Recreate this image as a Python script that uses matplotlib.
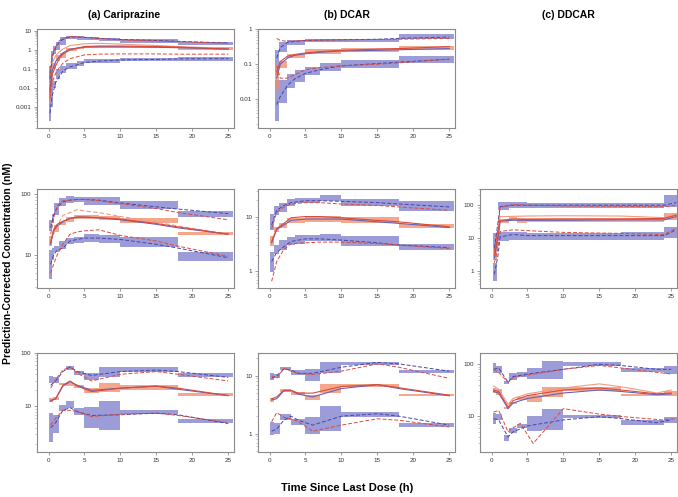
import numpy as np
import matplotlib
matplotlib.use("Agg")
import matplotlib.pyplot as plt
from matplotlib.ticker import LogLocator, FuncFormatter, NullFormatter, FixedLocator

plt.rcParams['font.family'] = ['Liberation Sans', 'DejaVu Sans']
N = None

# ---------------- data ----------------
col_titles = ["(a) Cariprazine", "(b) DCAR", "(c) DDCAR"]
x_label = "Time Since Last Dose (h)"
y_label = "Prediction-Corrected Concentration (nM)"
x_ticks = [0, 5, 10, 15, 20, 25]

# Row 1 / Cariprazine
A1_edges = [0.1, 0.35, 0.6, 1.1, 1.6, 2.5, 4, 5, 7, 10, 18, 25.7]
A1_p95 = [[0.02, 0.15], [0.12, 0.9], [0.6, 1.6], [1.0, 2.6], [1.8, 4.5], [3.5, 5.2], [3.4, 5.0], [3.2, 4.5], [3.0, 4.2], [2.4, 3.5], [1.9, 2.7]]
A1_p50 = [[0.0022, 0.031], [0.02, 0.15], [0.1, 0.22], [0.25, 0.55], [0.4, 0.65], [0.9, 1.3], [1.1, 1.5], [1.2, 1.6], [1.3, 1.6], [1.3, 1.65], [1.0, 1.35]]
A1_p05 = [[0.0002, 0.016], [0.001, 0.03], [0.01, 0.025], [0.03, 0.1], [0.06, 0.15], [0.1, 0.2], [0.15, 0.25], [0.2, 0.35], [0.22, 0.35], [0.25, 0.38], [0.28, 0.45]]
A1_time = [0.2, 0.5, 1, 1.5, 2, 3, 5, 7, 10, 15, 18, 25]
A1_sim95 = [0.03, 0.4, 1.3, 2.5, 3.5, 4.8, 4.5, 4.0, 3.5, 3.1, 2.8, 2.3]
A1_obs95 = [0.05, 0.6, 1.5, 3.0, 4.0, 5.0, 4.6, 4.0, 3.3, 2.9, 2.7, 2.2]
A1_sim50 = [0.008, 0.08, 0.25, 0.45, 0.7, 1.1, 1.4, 1.45, 1.45, 1.38, 1.3, 1.1]
A1_obs50 = [0.005, 0.05, 0.15, 0.35, 0.6, 1.0, 1.5, 1.6, 1.6, 1.5, 1.4, 1.1]
A1_extra = [0.01, 0.2, 0.5, 0.8, 1.1, 1.7, 2.1, 2.2, 2.0, 1.7, 1.5, 1.2]
A1_sim05 = [0.0005, 0.004, 0.02, 0.04, 0.08, 0.13, 0.22, 0.26, 0.3, 0.32, 0.34, 0.35]
A1_obs05 = [0.003, 0.02, 0.06, 0.12, 0.2, 0.35, 0.55, 0.6, 0.62, 0.62, 0.6, 0.6]
A1_yticks = [0.001, 0.01, 0.1, 1, 10]

# Row 1 / DCAR
B1_edges = [0.8, 1.3, 2.5, 3.5, 5, 7, 10, 18, 25.7]
B1_p95 = [[0.05, 0.26], [0.23, 0.42], [0.36, 0.5], [0.36, 0.5], [0.42, 0.54], [0.42, 0.54], [0.42, 0.54], [0.52, 0.73]]
B1_p50 = [[0.018, 0.09], [0.076, 0.12], [0.15, 0.2], [0.15, 0.2], [0.2, 0.27], [0.2, 0.27], [0.23, 0.3], [0.26, 0.34]]
B1_p05 = [[0.0024, 0.035], [0.008, 0.035], [0.021, 0.054], [0.031, 0.068], [0.048, 0.085], [0.065, 0.11], [0.076, 0.13], [0.106, 0.17]]
B1_time = [1.0, 1.5, 2.5, 3.5, 5, 7, 10, 15, 18, 25]
B1_sim95 = [0.15, 0.3, 0.42, 0.45, 0.48, 0.49, 0.5, 0.52, 0.55, 0.6]
B1_obs95 = [0.55, 0.48, 0.45, 0.46, 0.48, 0.49, 0.5, 0.51, 0.52, 0.55]
B1_sim50 = [0.04, 0.1, 0.15, 0.18, 0.2, 0.22, 0.24, 0.25, 0.26, 0.28]
B1_obs50 = [0.06, 0.12, 0.17, 0.19, 0.21, 0.23, 0.25, 0.27, 0.28, 0.32]
B1_sim05 = [0.007, 0.012, 0.025, 0.038, 0.055, 0.07, 0.09, 0.105, 0.115, 0.14]
B1_obs05 = [0.09, 0.04, 0.04, 0.05, 0.07, 0.08, 0.09, 0.1, 0.11, 0.14]
B1_yticks = [0.01, 0.1, 1]

# Row 2 / Cariprazine
A2_edges = [0.1, 0.5, 0.8, 1.5, 2.5, 3.5, 5, 7, 10, 18, 25.7]
A2_p95 = [[25, 38], [33, 48], [46, 73], [63, 86], [71, 92], [75, 90], [67, 89], [67, 89], [57, 76], [43, 52]]
A2_p50 = [[14, 20.6], N, [24, 31], [31, 35.4], [35, 42], [39, 46], [39, 46], [38, 44], [33, 40], [21, 24]]
A2_p05 = [[4, 12], [8.3, 12.8], [11, 14], [12.5, 17], [15, 19], [15.6, 20], [16.6, 22], [15.6, 21], [13.4, 20], [8, 11]]
A2_time = [0.3, 0.7, 1.2, 2, 3, 4, 5, 7, 10, 15, 18, 25]
A2_sim95 = [28, 45, 60, 75, 80, 82, 82, 80, 72, 62, 57, 48]
A2_obs95 = [22, 40, 65, 78, 80, 82, 82, 78, 70, 58, 50, 38]
A2_sim50 = [15, 25, 30, 35, 40, 42, 42, 41, 38, 32, 28, 22]
A2_obs50 = [16, 26, 32, 36, 40, 42, 42, 41, 39, 33, 29, 22]
A2_extra = [17, 22, 30, 45, 50, 56, 53, 50, 43, 35, 30, 22]
A2_sim05 = [7, 10, 12, 13, 17, 18, 19, 19, 18, 15, 13, 9]
A2_obs05 = [5, 7, 10, 15, 22, 24, 25, 26, 21, 17, 14, 9.5]
A2_yticks = [10, 100]

# Row 2 / DCAR
B2_edges = [0.1, 0.6, 1.3, 2.5, 3.5, 5, 7, 10, 18, 25.7]
B2_p95 = [[5.7, 11], [10.7, 15.3], [12.3, 17.6], [15.7, 20.8], [17.6, 21.7], [17.6, 21.7], [18.9, 25], [15.7, 20.8], [12.9, 18.9]]
B2_p50 = [[2.9, 4.4], [5.3, 6.5], [6.1, 7.5], [7.5, 9.3], [7.5, 9.3], [8.1, 10.3], [8.1, 10.3], [7.5, 9.7], [6.1, 7.2]]
B2_p05 = [[0.97, 2.27], [2.1, 3.0], [2.4, 3.7], [3.0, 4.3], [3.2, 4.6], [3.5, 4.6], [3.5, 4.8], [2.9, 4.4], [2.4, 3.2]]
B2_time = [0.3, 1, 2, 3, 5, 7, 10, 15, 18, 25]
B2_sim95 = [7, 13, 16, 18, 19.5, 19.5, 19, 18, 17, 15]
B2_obs95 = [6, 12, 15, 17, 18, 18, 17, 16, 15, 13]
B2_sim50 = [3.3, 5.8, 7, 8.5, 9, 9, 9, 8, 7.5, 6.3]
B2_obs50 = [3.5, 6, 7.5, 9.5, 10, 10, 9.5, 8.5, 8, 6.5]
B2_sim05 = [1.5, 2.2, 2.8, 3.5, 3.9, 3.9, 3.7, 3.3, 3.0, 2.7]
B2_obs05 = [0.65, 1.5, 2.5, 3.2, 3.3, 3.4, 3.4, 3.2, 3.0, 2.6]
B2_yticks = [1, 10]

# Row 2 / DDCAR
C2_edges = [0.2, 0.7, 0.9, 2.5, 3.5, 5, 10, 18, 24, 25.8]
C2_p95 = [[5.6, 14], [5, 15], [72, 129], [81, 129], [81, 129], [81, 120], [81, 120], [81, 115], [91, 205]]
C2_p50 = [[2.2, 5.6], N, [28, 36], [36, 45], [28, 40], [32, 42], [30, 40], [30, 40], [36, 57]]
C2_p05 = [[0.52, 1.83], N, [8, 15], [9, 15], [9, 15], [9, 14], [9, 14], [9, 15], [10, 22]]
C2_time = [0.4, 0.9, 1.2, 3, 5, 10, 18, 24, 25.7]
C2_sim95 = [5, 30, 90, 100, 100, 100, 100, 100, 120]
C2_obs95 = [4, 20, 85, 105, 100, 95, 92, 90, 100]
C2_sim50 = [2.5, 10, 33, 35, 35, 35, 36, 36, 45]
C2_obs50 = [3, 12, 35, 38, 37, 38, 38, 40, 50]
C2_extra = [3.5, 15, 45, 46, 47, 48, 47, 42, 55]
C2_sim05 = [0.8, 3, 11, 13, 12, 12, 12, 12, 18]
C2_obs05 = [1.8, 5, 16, 18, 17, 15, 14, 13, 20]
C2_yticks = [1, 10, 100]

# Row 3 / Cariprazine
A3_edges = [0.1, 0.6, 1.5, 2.5, 3.5, 5, 7, 10, 18, 25.7]
A3_p95 = [[27.4, 36.5], [28, 35.5], N, [49, 58], [39, 47], [31.6, 43], [35.5, 54], [45, 54], [35.5, 42]]
A3_p50 = [[11.9, 14.3], [13.3, 15], [25.5, 28], [24, 27], [22, 25.5], [17.8, 22], [19, 27.4], [20.5, 25.5], [15.9, 17.8]]
A3_p05 = [[2.2, 7.5], [3.2, 7], [8.3, 10.7], [9.3, 12.4], [7, 9.3], [4, 9.8], [3.7, 12.8], [7.3, 8.7], [4.9, 5.8]]
A3_time = [0.3, 1, 2, 3, 4, 6, 10, 15, 18, 25]
A3_sim95 = [25, 30, 45, 55, 45, 38, 45, 48, 45, 35]
A3_obs95 = [22, 32, 48, 55, 42, 30, 40, 45, 40, 30]
A3_sim50 = [13, 14, 24, 29, 25, 20, 22, 24, 21, 16]
A3_obs50 = [12.5, 14, 25, 30, 24, 19, 22, 24, 22, 16]
A3_sim05 = [4, 5, 8.5, 9.5, 8, 6.8, 7, 7.5, 7, 4.8]
A3_obs05 = [4.5, 6, 8.5, 8.5, 8, 6.5, 7.2, 7.5, 6.8, 5]
A3_yticks = [10, 100]

# Row 3 / DCAR
B3_edges = [0.1, 0.6, 1.5, 3.0, 5, 7, 10, 18, 25.7]
B3_p95 = [[8.4, 11.3], [9, 10.9], [12.5, 14.3], [10.3, 12.5], [8.2, 12.9], [11, 17.5], [15.3, 17.5], [11, 12.5]]
B3_p50 = [[3.5, 4.1], N, [5.3, 5.8], [4.6, 5.3], [3.8, 4.6], [5.1, 7.2], [6.3, 7.1], [4.4, 4.9]]
B3_p05 = [[0.94, 1.6], [1.0, 1.5], [1.7, 2.2], [1.4, 1.8], [1.0, 1.95], [1.1, 3.0], [1.95, 2.4], [1.3, 1.5]]
B3_time = [0.3, 1, 2, 3, 4, 6, 10, 15, 18, 25]
B3_sim95 = [9, 10, 13, 12.5, 11, 11, 14, 17, 16, 12]
B3_obs95 = [10, 9, 13.5, 12, 11, 10.5, 12, 16, 14, 9]
B3_sim50 = [3.8, 4, 5.5, 5.5, 4.8, 4.3, 6, 7, 6, 4.5]
B3_obs50 = [4, 4.3, 5.6, 5.6, 5, 5, 6.5, 7, 6.2, 4.6]
B3_sim05 = [1.1, 1.2, 1.7, 2, 1.7, 1.4, 2, 2.2, 2, 1.4]
B3_obs05 = [1.6, 2.3, 1.9, 1.8, 1.6, 1.1, 1.4, 1.8, 1.7, 1.3]
B3_yticks = [1, 10]

# Row 3 / DDCAR
C3_edges = [0.2, 0.6, 1.5, 1.8, 2.5, 3.5, 5, 7, 10, 18, 24, 25.8]
C3_p95 = [[69, 104], [69, 93], N, [42, 48], [50, 67], [58, 72], [51, 86], [51, 116], [94, 109], [72, 84], [65, 93]]
C3_p50 = [[27.7, 34.5], [25.7, 33], N, [13.7, 14.9], [17.2, 19.2], [20.6, 23], [19.2, 25.7], [23, 37], [31, 36], [24.6, 27], [24, 30]]
C3_p05 = [[7.1, 11.4], [8.5, 11], N, [3.4, 4.4], [4.7, 5.9], [5.9, 7.1], [5.3, 9.9], [5.5, 13.6], [9.2, 10.6], [6.8, 8.5], [7.3, 9.6]]
C3_time = [0.3, 1, 2.3, 3, 5, 10, 15, 18, 23, 25]
C3_sim95 = [80, 85, 45, 58, 65, 80, 100, 95, 80, 80]
C3_obs95 = [80, 70, 45, 55, 62, 80, 95, 85, 70, 65]
C3_sim50 = [30, 28, 14, 18, 22, 28, 32, 30, 26, 27]
C3_obs50 = [32, 30, 15, 20, 25, 32, 35, 32, 27, 28]
C3_extra = [38, 33, 17, 22, 27, 35, 42, 37, 28, 32]
C3_sim05 = [9, 8.5, 4, 5, 6.5, 8.5, 9.8, 9, 7.5, 8.5]
C3_obs05_time = [0.3, 1, 2.3, 3, 4, 5.8, 10, 15, 18, 23.8, 25.7]
C3_obs05 = [12, 13, 5, 6, 7.3, 3.0, 14, 11, 9.9, 8.5, 9]
C3_yticks = [10, 100]

# ---------------- styling / layout ----------------
BLUE_BOX = '#7b7bcc'
RED_BOX = '#f28a66'
BLUE_LINE = '#4646a8'
RED_LINE = '#dc4a3a'
EXTRA_LINE = '#f29a80'
FRAME = '#8a8a8a'

W, H = 678, 497
fig = plt.figure(figsize=(W / 100, H / 100), dpi=100)

col_left = [37, 258, 480]
row_top = [29, 189, 353]
pw, ph = 197, 99

panels = {
    (0, 0): dict(edges=A1_edges, p95=A1_p95, p50=A1_p50, p05=A1_p05, t=A1_time,
                 sim95=A1_sim95, obs95=A1_obs95, sim50=A1_sim50, obs50=A1_obs50,
                 sim05=A1_sim05, obs05=A1_obs05, extra=A1_extra, extra_ls='-',
                 ylim=(8.5e-5, 12.3), yt=A1_yticks),
    (0, 1): dict(edges=B1_edges, p95=B1_p95, p50=B1_p50, p05=B1_p05, t=B1_time,
                 sim95=B1_sim95, obs95=B1_obs95, sim50=B1_sim50, obs50=B1_obs50,
                 sim05=B1_sim05, obs05=B1_obs05, ylim=(0.0015, 1.02), yt=B1_yticks),
    (1, 0): dict(edges=A2_edges, p95=A2_p95, p50=A2_p50, p05=A2_p05, t=A2_time,
                 sim95=A2_sim95, obs95=A2_obs95, sim50=A2_sim50, obs50=A2_obs50,
                 sim05=A2_sim05, obs05=A2_obs05, extra=A2_extra, extra_ls='--',
                 ylim=(2.86, 122), yt=A2_yticks),
    (1, 1): dict(edges=B2_edges, p95=B2_p95, p50=B2_p50, p05=B2_p05, t=B2_time,
                 sim95=B2_sim95, obs95=B2_obs95, sim50=B2_sim50, obs50=B2_obs50,
                 sim05=B2_sim05, obs05=B2_obs05, ylim=(0.49, 32), yt=B2_yticks),
    (1, 2): dict(edges=C2_edges, p95=C2_p95, p50=C2_p50, p05=C2_p05, t=C2_time,
                 sim95=C2_sim95, obs95=C2_obs95, sim50=C2_sim50, obs50=C2_obs50,
                 sim05=C2_sim05, obs05=C2_obs05, extra=C2_extra, extra_ls='-',
                 ylim=(0.31, 310), yt=C2_yticks),
    (2, 0): dict(edges=A3_edges, p95=A3_p95, p50=A3_p50, p05=A3_p05, t=A3_time,
                 sim95=A3_sim95, obs95=A3_obs95, sim50=A3_sim50, obs50=A3_obs50,
                 sim05=A3_sim05, obs05=A3_obs05, ylim=(1.41, 100), yt=A3_yticks),
    (2, 1): dict(edges=B3_edges, p95=B3_p95, p50=B3_p50, p05=B3_p05, t=B3_time,
                 sim95=B3_sim95, obs95=B3_obs95, sim50=B3_sim50, obs50=B3_obs50,
                 sim05=B3_sim05, obs05=B3_obs05, ylim=(0.48, 24.7), yt=B3_yticks),
    (2, 2): dict(edges=C3_edges, p95=C3_p95, p50=C3_p50, p05=C3_p05, t=C3_time,
                 sim95=C3_sim95, obs95=C3_obs95, sim50=C3_sim50, obs50=C3_obs50,
                 sim05=C3_sim05, obs05=C3_obs05, obs05_t=C3_obs05_time,
                 extra=C3_extra, extra_ls='-', ylim=(2.05, 165), yt=C3_yticks),
}


def boxes(ax, edges, bounds, color):
    for i, b in enumerate(bounds):
        if b is None:
            continue
        ax.bar(edges[i], b[1] - b[0], bottom=b[0], width=edges[i + 1] - edges[i],
               align='edge', color=color, alpha=0.75, linewidth=0, zorder=1)


for (r, c), p in panels.items():
    left = col_left[c] / W
    bottom = 1 - (row_top[r] + ph) / H
    ax = fig.add_axes([left, bottom, pw / W, ph / H])
    ax.set_yscale('log')
    boxes(ax, p['edges'], p['p95'], BLUE_BOX)
    boxes(ax, p['edges'], p['p05'], BLUE_BOX)
    boxes(ax, p['edges'], p['p50'], RED_BOX)
    t = p['t']
    if 'extra' in p:
        ax.plot(t, p['extra'], color=EXTRA_LINE, lw=0.8, ls=p['extra_ls'],
                dashes=(4, 2) if p['extra_ls'] == '--' else (None, None), zorder=2)
    ax.plot(t, p['sim95'], color=BLUE_LINE, lw=0.7, ls='--', dashes=(4, 2), zorder=3)
    ax.plot(t, p['sim05'], color=BLUE_LINE, lw=0.7, ls='--', dashes=(4, 2), zorder=3)
    ax.plot(t, p['sim50'], color='#6262c0', lw=0.8, zorder=3)
    ax.plot(t, p['obs95'], color=RED_LINE, lw=0.7, ls='--', dashes=(4, 2), zorder=4)
    ax.plot(p.get('obs05_t', t), p['obs05'], color=RED_LINE, lw=0.7, ls='--', dashes=(4, 2), zorder=4)
    ax.plot(t, p['obs50'], color=RED_LINE, lw=0.8, zorder=4)

    ax.set_xlim(-1.6, 25.8)
    ax.set_ylim(*p['ylim'])
    ax.set_xticks(x_ticks)
    ax.yaxis.set_major_locator(FixedLocator(p['yt']))
    ax.yaxis.set_minor_locator(LogLocator(base=10, subs=np.arange(2, 10), numticks=10))
    ax.yaxis.set_major_formatter(FuncFormatter(lambda v, _: f'{v:g}'))
    ax.yaxis.set_minor_formatter(NullFormatter())
    for s in ax.spines.values():
        s.set_color(FRAME)
        s.set_linewidth(0.8)
    ax.tick_params(axis='both', which='major', length=2, width=0.5, colors='#777777',
                   labelsize=4.5, labelcolor='#333333', pad=2)
    ax.tick_params(axis='y', which='minor', length=1.2, width=0.4, colors='#999999')

title_x = [124, 347, 568]
for cx, tt in zip(title_x, col_titles):
    fig.text(cx / W, 1 - 15 / H, tt, ha='center', va='center', fontsize=7.5, fontweight='bold')

fig.text(347 / W, 1 - 488 / H, x_label, ha='center', va='center', fontsize=8, fontweight='bold')
fig.text(8 / W, 1 - 263 / H, y_label, ha='center', va='center', rotation=90,
         fontsize=7.5, fontweight='bold')

fig.savefig('out.png', dpi=100)
